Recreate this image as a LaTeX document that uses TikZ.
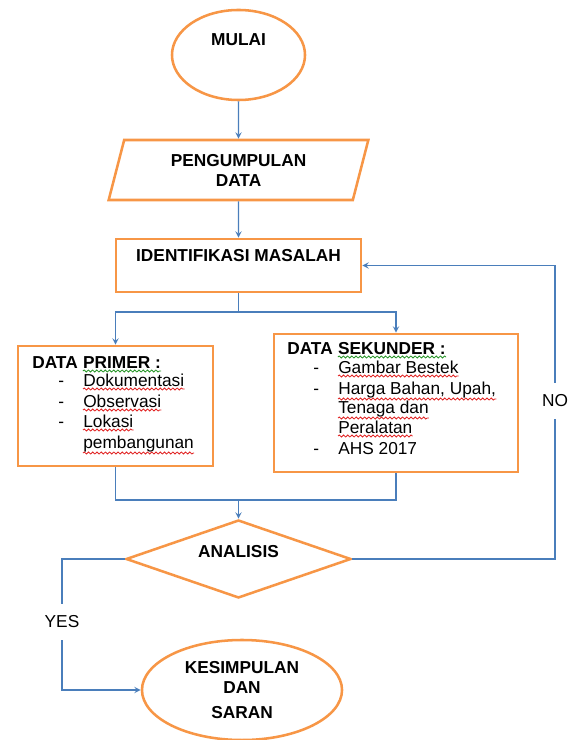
\documentclass[tikz,border=0pt]{standalone}
\usepackage{fontspec}
\setmainfont{Liberation Sans}
\usepackage{xcolor}
\usetikzlibrary{positioning, shapes.geometric, calc, decorations.pathmorphing}

\definecolor{wordorange}{RGB}{247,150,70}
\definecolor{wordblue}{RGB}{74,126,187}
\definecolor{spellred}{RGB}{225,35,35}
\definecolor{spellgreen}{RGB}{40,150,40}

\begin{document}
\begin{tikzpicture}[
    x=0.025cm, y=-0.025cm,
    % Base styles
    basebox/.style={draw=wordorange, line width=1.8pt, fill=white, inner sep=0pt,
        align=center, font=\bfseries\fontsize{12.3}{14.2}\selectfont},
    % Ellipse for start / end
    termbox/.style={basebox, ellipse},
    % Parallelogram for data input
    iobox/.style={basebox, trapezium, trapezium left angle=74, trapezium right angle=106,
        trapezium stretches=true},
    % Rectangle for processes
    procbox/.style={basebox, rectangle},
    % Diamond for the decision
    decbox/.style={basebox, diamond},
    % Connector styles
    flow/.style={draw=wordblue, line width=1pt},
    arrow/.style={flow, ->, >=stealth},
    % Text styles
    shapetext/.style={font=\bfseries\fontsize{12.3}{14.2}\selectfont, inner sep=0pt},
    headtext/.style={shapetext, anchor=base west},
    itemtext/.style={font=\fontsize{12.3}{14.2}\selectfont, inner sep=0pt, anchor=base west},
    answer/.style={fill=white, font=\fontsize{12.3}{14.2}\selectfont, inner xsep=1pt, minimum height=0.9cm},
    % Spell-check underline
    spellwave/.style={draw=#1, line width=0.6pt, decorate,
        decoration={snake, segment length=3pt, amplitude=0.7pt}},
]
\useasboundingbox (0,0) rectangle (579,740);

% Main column
\node[termbox, minimum width=3.325cm, minimum height=2.25cm,
      label={[shapetext, yshift=0.375cm]center:MULAI}] (mulai) at (238.5,55) {};
\node[iobox, minimum width=6.5cm, minimum height=1.5cm] (kumpul) at (238.5,170) {PENGUMPULAN\\DATA};
\node[procbox, minimum width=6.125cm, minimum height=1.325cm,
      label={[shapetext, yshift=0.26cm]center:IDENTIFIKASI MASALAH}] (identif) at (238.5,265.5) {};

% Data boxes
\node[procbox, minimum width=4.875cm, minimum height=3cm] (primer) at (115.5,406) {};
\node[procbox, minimum width=6.1cm, minimum height=3.45cm] (sekunder) at (396,403) {};

% Primary data list
\node[headtext] (prihead) at (32,368) {DATA};
\node[headtext, base right=0.12cm of prihead] (prihead2) {PRIMER :};
\node[itemtext] (pridash1) at (58,386) {-};
\node[itemtext] (pridash2) at (58,407) {-};
\node[itemtext] (pridash3) at (58,427) {-};
\node[itemtext] (dok) at (83,386) {Dokumentasi};
\node[itemtext] (obs) at (83,407) {Observasi};
\node[itemtext] (lok) at (83,427) {Lokasi};
\node[itemtext] (pemb) at (83,448) {pembangunan};

% Secondary data list
\node[headtext] (sekhead) at (287,354) {DATA};
\node[headtext, base right=0.12cm of sekhead] (sekhead2) {SEKUNDER :};
\node[itemtext] (sekdash1) at (313,373) {-};
\node[itemtext] (sekdash2) at (313,394) {-};
\node[itemtext] (sekdash3) at (313,454) {-};
\node[itemtext] (bestek) at (338,373) {Gambar Bestek};
\node[itemtext] (harga) at (338,394) {Harga Bahan, Upah,};
\node[itemtext] (tenaga) at (338,413) {Tenaga dan};
\node[itemtext] (alat) at (338,433) {Peralatan};
\node[itemtext] (ahs) at (338,454) {AHS 2017};

% Wavy underlines
\draw[spellwave=spellgreen] ($(prihead2.base west)+(0,3)$) -- ($(prihead2.base east)+(0,3)$);
\draw[spellwave=spellgreen] ($(sekhead2.base west)+(0,3)$) -- ($(sekhead2.base east)+(0,3)$);
\draw[spellwave=spellred] ($(dok.base west)+(0,3)$) -- ($(dok.base east)+(0,3)$);
\draw[spellwave=spellred] ($(obs.base west)+(0,3)$) -- ($(obs.base east)+(0,3)$);
\draw[spellwave=spellred] ($(lok.base west)+(0,3)$) -- ($(lok.base east)+(0,3)$);
\draw[spellwave=spellred] ($(pemb.base west)+(0,5)$) -- ($(pemb.base east)+(0,5)$);
\draw[spellwave=spellred] ($(bestek.base west)+(0,3)$) -- ($(bestek.base east)+(0,3)$);
\draw[spellwave=spellred] ($(harga.base west)+(0,5)$) -- ($(harga.base east)+(0,5)$);
\draw[spellwave=spellred] ($(tenaga.base west)+(0,5)$) -- ($(tenaga.base east)+(0,5)$);
\draw[spellwave=spellred] ($(alat.base west)+(0,3)$) -- ($(alat.base east)+(0,3)$);

% Decision and end
\node[decbox, minimum width=5.625cm, minimum height=1.95cm,
      label={[shapetext, yshift=0.175cm]center:ANALISIS}] (analisis) at (238.5,559) {};
\node[termbox, minimum width=5cm, minimum height=2.5cm] (simpulan) at (242,690) {KESIMPULAN\\DAN\\[3pt]SARAN};

% Turning points
\coordinate (split) at (238.5,312);
\coordinate (merge) at (238.5,500);
\coordinate (noline) at (555,0);
\coordinate (yesturn) at (62,690);

% Arrows: main flow
\draw[arrow] (mulai) -- (kumpul);
\draw[arrow] (kumpul) -- (identif);
\draw[flow] (identif) -- (split);
\draw[arrow] (split) -| (primer.north);
\draw[arrow] (split) -| (sekunder.north);
\draw[flow] (primer.south) |- (merge) -| (sekunder.south);
\draw[arrow] (merge) -- (analisis.north);

% Decision outcomes
\draw[arrow] (analisis.east) -| node[answer, pos=0.77] (nolbl) {NO} (noline |- identif.east) -- (identif.east);
\draw[arrow] (analisis.west) -| node[answer, pos=0.74] (yeslbl) {YES} (yesturn) -- (simpulan.west);

\end{tikzpicture}
\end{document}
